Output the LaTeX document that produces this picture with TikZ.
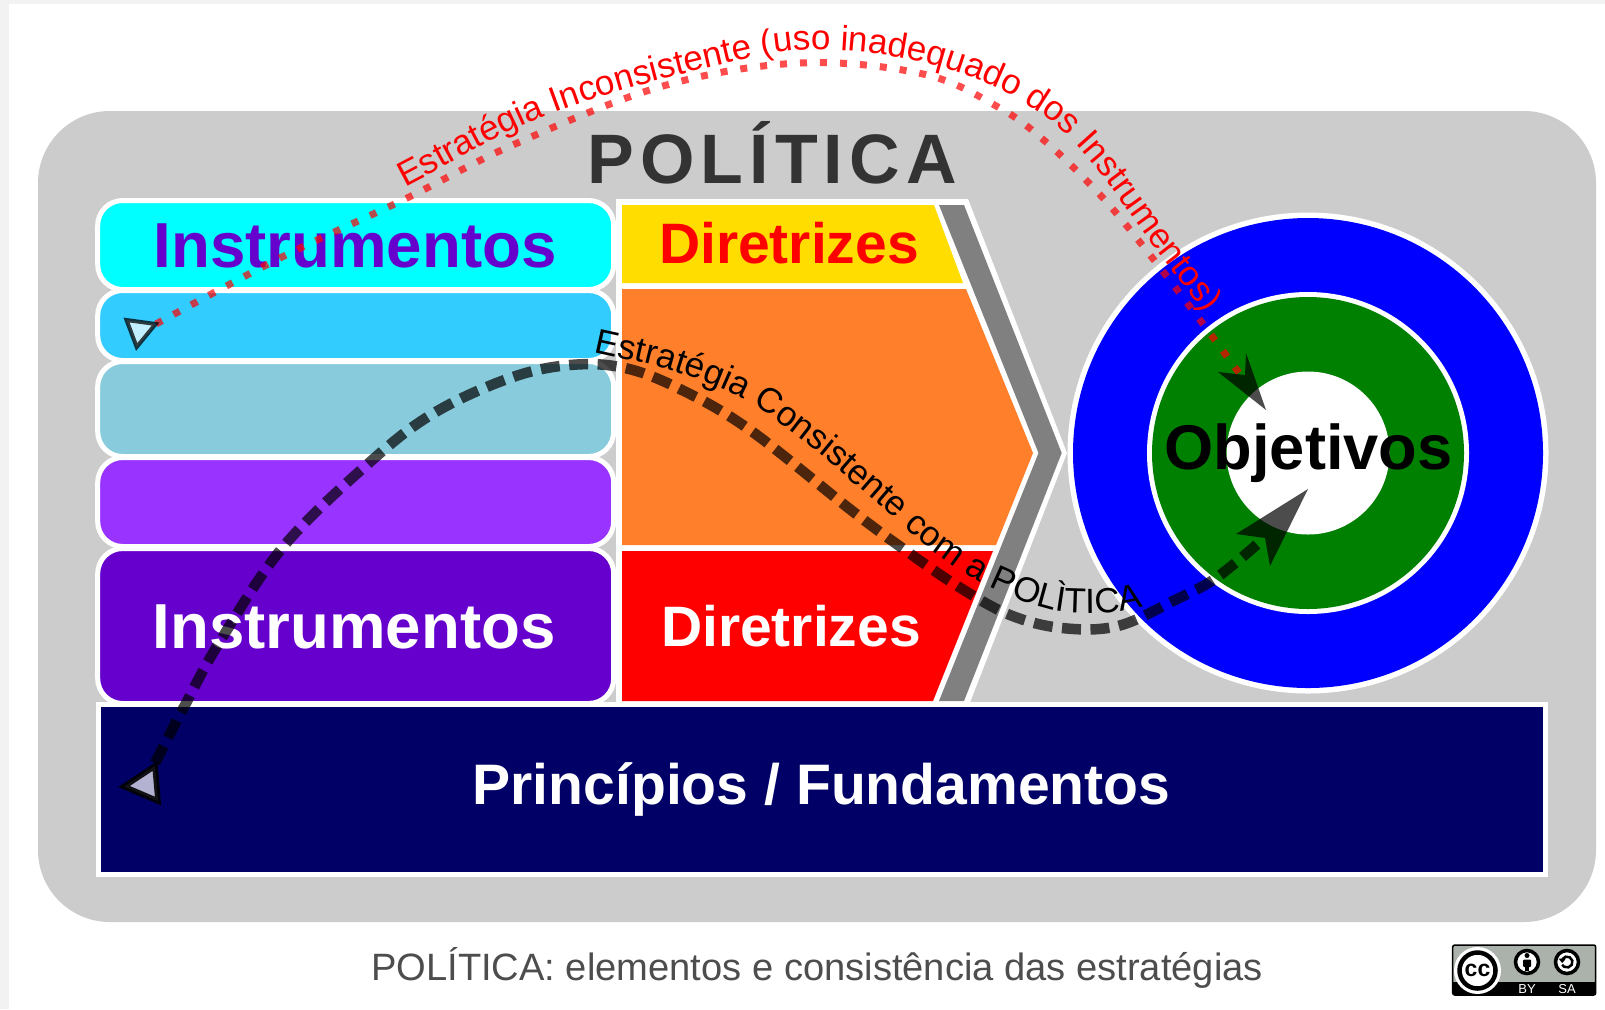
\documentclass[tikz,border=0pt]{standalone}
\usepackage{fontspec}
\setmainfont{Liberation Sans}
\usetikzlibrary{decorations.text}
\definecolor{painelcinza}{HTML}{CCCCCC}
\definecolor{faixa}{HTML}{F2F2F2}
\definecolor{titulo}{HTML}{333333}
\definecolor{legenda}{HTML}{4D4D4D}
\definecolor{ciano}{HTML}{00FFFF}
\definecolor{azulceu}{HTML}{33CCFF}
\definecolor{azulpalido}{HTML}{87CBDC}
\definecolor{lilas}{HTML}{9933FF}
\definecolor{roxo}{HTML}{6600CC}
\definecolor{amarelo}{HTML}{FFDD00}
\definecolor{laranja}{HTML}{FF7F2A}
\definecolor{marinho}{HTML}{000066}
\definecolor{verde}{HTML}{008000}
\definecolor{cinzaseta}{HTML}{808080}
\definecolor{selo}{HTML}{AAB2AB}
\newdimen\pxu \pxu=.25pt
\newcommand{\fs}[1]{\fontsize{\fpeval{#1*.25}}{\fpeval{#1*.25}}\selectfont}
\tikzset{
  x=.25pt,y=-.25pt,
  instbox/.style={draw=white,line width=5\pxu,rounded corners=25\pxu,inner sep=0pt,outer sep=0pt},
  base label/.style={anchor=base,inner sep=0pt,font=\bfseries},
  dotted curve/.style={draw=red,draw opacity=.7,line width=7\pxu,dash pattern=on 7\pxu off 13\pxu},
  dashed curve/.style={draw=black,draw opacity=.7,line width=10.5\pxu,dash pattern=on 19\pxu off 9.5\pxu},
  arrow head/.style={fill=black,fill opacity=.7,draw=none},
}
\begin{document}
\begin{tikzpicture}
\useasboundingbox (0,0) rectangle (1605,1009);
\fill[white] (0,0) rectangle (1605,1009);
\fill[faixa] (0,0) rectangle (1605,4);
\fill[faixa] (0,0) rectangle (9,1009);
% painel
\node[fill=painelcinza,rounded corners=72\pxu,inner sep=0pt,outer sep=0pt,minimum width=1558\pxu,minimum height=811\pxu] (painel) at (817,516.5) {};
\node[base label,text=titulo] (titulo) at (772,183) {\fs{70}\addfontfeature{LetterSpace=8.7}POLÍTICA};
% instrumentos
\node[instbox,fill=ciano,minimum width=516\pxu,minimum height=89\pxu] (inst1) at (355.7,245) {};
\node[instbox,fill=azulceu,minimum width=516\pxu,minimum height=70\pxu] (inst2) at (355.7,325.5) {};
\node[instbox,fill=azulpalido,minimum width=516\pxu,minimum height=95\pxu] (inst3) at (355.7,409) {};
\node[instbox,fill=lilas,minimum width=516\pxu,minimum height=89\pxu] (inst4) at (355.7,502) {};
\node[instbox,fill=roxo,minimum width=516\pxu,minimum height=155\pxu] (inst5) at (355.7,626) {};
% diretrizes
\fill[white] (616,199) -- (968,199) -- (1067,453) -- (969,705) -- (616,705) -- cycle;
\fill[cinzaseta] (939,205) -- (964,205) -- (1061.7,453) -- (964,701) -- (939,701) -- (1038.5,453) -- cycle;
\fill[amarelo] (622,205) -- (934,205) -- (963,283) -- (622,283) -- cycle;
\fill[laranja] (622,289) -- (966,289) -- (1033,453) -- (996,545) -- (622,545) -- cycle;
\fill[red] (622,551) -- (993,551) -- (933,701) -- (622,701) -- cycle;
% principios
\node[draw=white,line width=5\pxu,fill=marinho,inner sep=0pt,outer sep=0pt,minimum width=1447\pxu,minimum height=170\pxu] (princ) at (822,789.5) {};
% objetivos
\node[circle,fill=white,inner sep=0pt,minimum size=481\pxu] (c0) at (1308,453) {};
\node[circle,fill=blue,inner sep=0pt,minimum size=470\pxu] (c1) at (1308,453) {};
\node[circle,fill=white,inner sep=0pt,minimum size=322\pxu] (c2) at (1308,453) {};
\node[circle,fill=verde,inner sep=0pt,minimum size=312\pxu] (c3) at (1308,453) {};
\node[circle,fill=white,inner sep=0pt,minimum size=163\pxu] (c4) at (1308,453) {};
% rotulos
\node[base label,text=roxo] (t1) at (355,267) {\fs{63.6}Instrumentos};
\node[base label,text=white] (t2) at (354,648) {\fs{63.6}Instrumentos};
\node[base label,text=red] (t3) at (789,263) {\fs{57}Diretrizes};
\node[base label,text=white] (t4) at (791,646) {\fs{57}Diretrizes};
\node[base label,text=white] (t5) at (821.5,804) {\fs{57.1}Princípios / Fundamentos};
\node[base label,text=black] (t6) at (1308.5,469) {\fs{63.2}Objetivos};
\node[anchor=base,inner sep=0pt,text=legenda] (leg) at (817,980) {\fs{38.1}POLÍTICA: elementos e consistência das estratégias};
% estrategia inconsistente
\coordinate (rs) at (156,324);
\coordinate (re) at (1239,373);
\draw[dotted curve] plot[smooth,tension=.6] coordinates {(rs) (280,258) (405,199) (515,144) (663,86) (800,63) (923,74) (998,107) (1046,142) (1103,198) (1154,260) (1203,324) (re)};
\fill[arrow head] (1266,410) -- (1246,353) -- (1245,375) -- (1218,372) -- cycle;
\draw[black,draw opacity=.75,fill=white,fill opacity=.7,line width=4\pxu,line join=miter] (126.5,320) -- (155.6,324) -- (136.7,347) -- cycle;
\path[decorate,decoration={text along path,text={|\fs{35}\color{red}|Estratégia Inconsistente (uso inadequado dos Instrumentos)}}]
  (405,187) .. controls (454,162) and (501.5,132) .. (553,113)
  .. controls (617,89) and (684,73) .. (750,58)
  .. controls (774,52) and (801,49) .. (826,50)
  .. controls (860,51) and (893,55) .. (926,63)
  .. controls (957,71) and (988,83) .. (1016,98)
  .. controls (1036,109) and (1056,123) .. (1072,140)
  .. controls (1105,175) and (1130,215) .. (1159,253)
  .. controls (1176,275) and (1194,297) .. (1210,320)
  .. controls (1228,346) and (1244,374) .. (1260,400);
% estrategia consistente
\coordinate (bs) at (155,763);
\coordinate (be) at (1262,540);
\draw[dashed curve] plot[smooth,tension=.6] coordinates {(bs) (184,707) (219,643) (283,547) (370,462) (434,413) (510,378) (570,365) (625,368) (682,390) (750,430) (851,510) (905,550) (959,587) (1010,615) (1062,628) (1118,626) (1175,600) (1216,578) (be)};
\fill[arrow head] (1308,489) -- (1236,534) -- (1265,538) -- (1270,566) -- cycle;
\draw[black,draw opacity=.9,fill=white,fill opacity=.7,line width=5.5\pxu,line join=miter] (124,786.5) -- (155,766) -- (158,801) -- cycle;
\path[decorate,decoration={text along path,text={|\fs{35}\color{black}|Estratégia Consistente com a POLÌTICA}}]
  (594,352) .. controls (619,358) and (645,362) .. (670,370)
  .. controls (696,378) and (721,387) .. (745,400)
  .. controls (770,414) and (792,432) .. (815,450)
  .. controls (839,469) and (861,490) .. (885,510)
  .. controls (905,527) and (924,545) .. (945,560)
  .. controls (959,570) and (975,580) .. (990,587)
  .. controls (1010,596) and (1030,605) .. (1051,610)
  .. controls (1067,614) and (1084,613) .. (1100,613)
  .. controls (1113,613) and (1126,611) .. (1139,608)
  .. controls (1159,603) and (1180,596) .. (1200,590);
% selo cc
\node[draw=black,line width=1.5\pxu,fill=selo,rounded corners=2\pxu,inner sep=0pt,minimum width=143\pxu,minimum height=50\pxu] (selo) at (1524.2,970) {};
\fill[black] (1453,982) rectangle (1595.5,995);
\node[circle,fill=white,inner sep=0pt,minimum size=47\pxu] (cchalo) at (1477.5,970.5) {};
\node[circle,draw=black,line width=4.5\pxu,fill=white,inner sep=0pt,minimum size=36\pxu,font=\bfseries,text=black] (cc) at (1477.5,970.5) {\fs{23}cc};
\node[circle,draw=black,line width=3.5\pxu,fill=white,inner sep=0pt,minimum size=23\pxu] (by) at (1527,962) {};
\fill[black] (1527,955.5) circle[radius=2.5\pxu];
\fill[black,rounded corners=1\pxu] (1523,959.5) rectangle (1531,967);
\fill[black] (1525,967) rectangle (1529,971);
\node[circle,draw=black,line width=3.5\pxu,fill=white,inner sep=0pt,minimum size=23\pxu] (sa) at (1567,962) {};
\draw[black,line width=2.5\pxu] (1562.2,959.25) arc[start angle=150,end angle=-150,radius=5.5\pxu];
\fill[black] (1558.5,958.5) -- (1566,958.5) -- (1562.2,963) -- cycle;
\node[anchor=base,inner sep=0pt,text=white] (tby) at (1527,993) {\fs{13}BY};
\node[anchor=base,inner sep=0pt,text=white] (tsa) at (1567,993) {\fs{13}SA};
\end{tikzpicture}
\end{document}
